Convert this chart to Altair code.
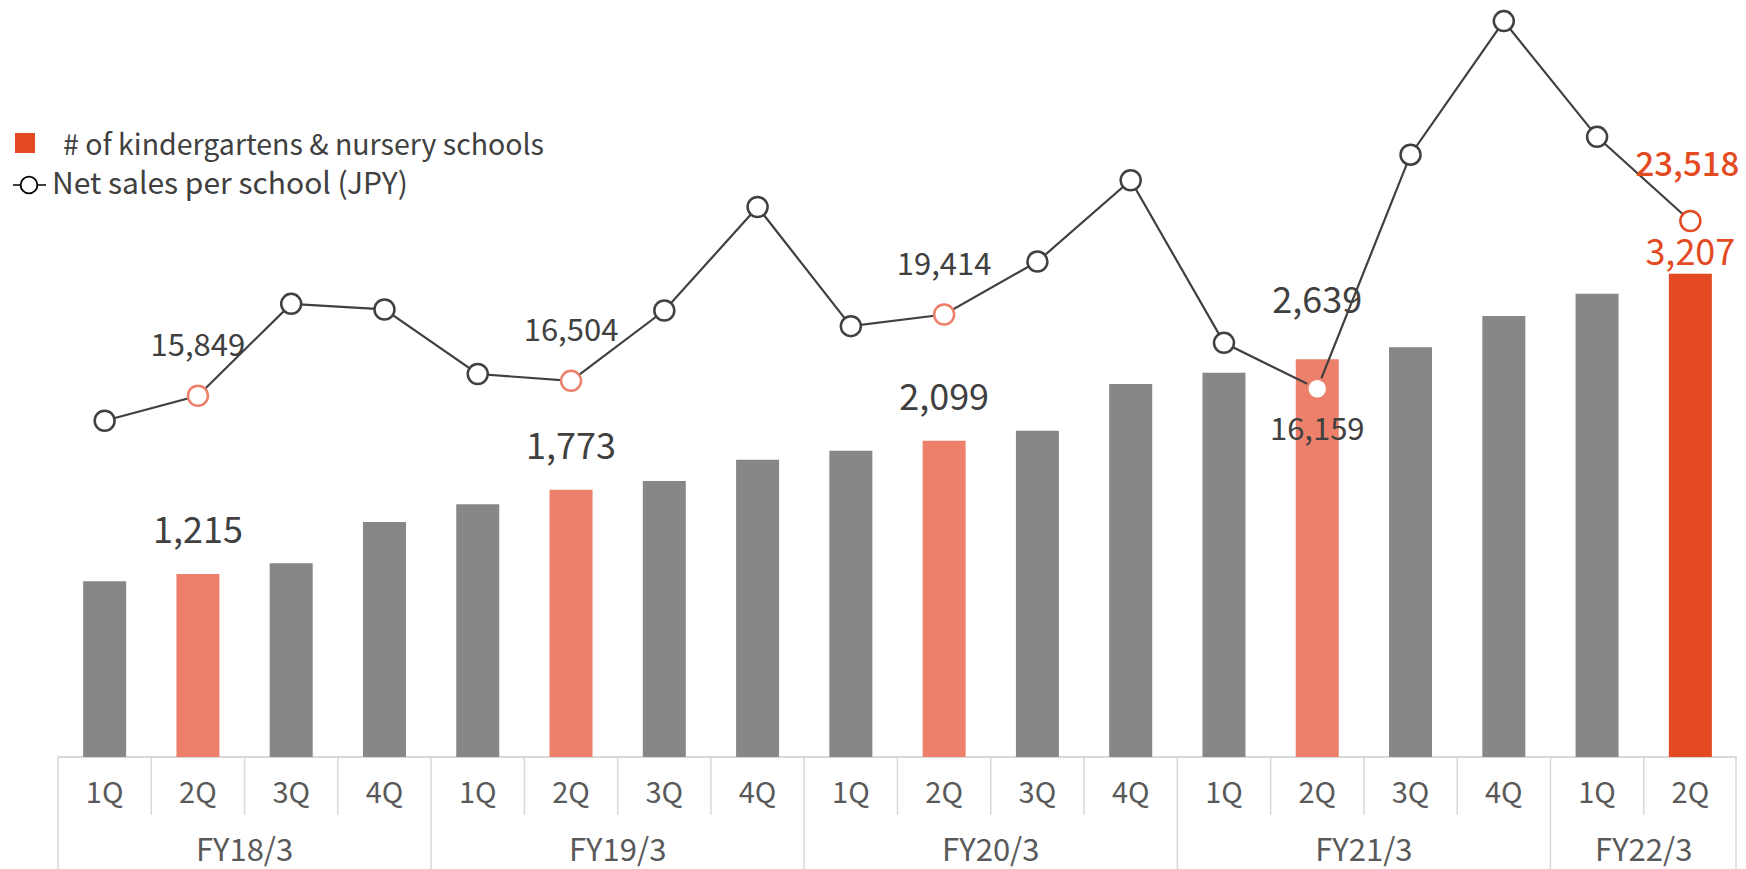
import altair as alt
import pandas as pd

# ---- data ----
fiscal_years = ["FY18/3"] * 4 + ["FY19/3"] * 4 + ["FY20/3"] * 4 + ["FY21/3"] * 4 + ["FY22/3"] * 2
quarters = ["1Q", "2Q", "3Q", "4Q"] * 4 + ["1Q", "2Q"]
schools = [1167, 1215, 1285, 1559, 1677, 1773, 1832, 1973, 2032, 2099,
           2165, 2475, 2549, 2639, 2719, 2926, 3074, 3207]
sales_per_school = [14753, 15849, 19883, 19638, 16805, 16504, 19590, 24133, 18906, 19414,
                    21739, 25305, 18173, 16159, 26429, 32291, 27211, 23518]
fy_names = ["FY18/3", "FY19/3", "FY20/3", "FY21/3", "FY22/3"]
legend_bar = "# of kindergartens & nursery schools"
legend_line = "Net sales per school (JPY)"

keys = [f"{f} {q}" for f, q in zip(fiscal_years, quarters)]
n = len(keys)
kind = []
for i, q in enumerate(quarters):
    if i == n - 1:
        kind.append("latest")
    elif q == "2Q":
        kind.append("half")
    else:
        kind.append("normal")

df = pd.DataFrame({
    "key": keys, "fy": fiscal_years, "q": quarters,
    "schools": schools, "sales": sales_per_school, "kind": kind,
})
# group label anchors: boundary in the middle of each fiscal year
anchors = []
for f in fy_names:
    idx = [i for i, v in enumerate(fiscal_years) if v == f]
    anchors.append(keys[idx[0] + len(idx) // 2])
fy_df = pd.DataFrame({"fy": fy_names, "anchor": anchors})

FONT = "Noto Sans CJK JP"
GRAY = "#878787"
SALMON = "#ED806A"
ORANGE = "#E34A22"
DARK = "#404040"
AXIS_TXT = "#595959"
GRID = "#d9d9d9"

W, H = 1679, 749
BOTTOM = 112
xscale = alt.Scale(type="band", domain=keys, paddingInner=0, paddingOuter=0)
X = alt.X("key:N", scale=xscale, axis=None)
ybar = alt.Y("schools:Q", scale=alt.Scale(domain=[0, 4970], nice=False, zero=True), axis=None)
yline = alt.Y("sales:Q", scale=alt.Scale(domain=[0, 32865], nice=False, zero=True), axis=None)
kind_color = alt.Scale(domain=["normal", "half", "latest"], range=[GRAY, SALMON, ORANGE])

base = alt.Chart(df)

bars = base.mark_bar(size=43).encode(
    x=X, y=ybar,
    color=alt.Color("kind:N", scale=kind_color, legend=None),
)

bar_lbl_common = dict(fontSize=36, font=FONT, baseline="middle", align="center")
bar_labels = base.transform_filter(
    "datum.kind == 'half' && datum.fy != 'FY21/3'"
).mark_text(dy=-42, color=DARK, **bar_lbl_common).encode(
    x=X, y=ybar, text=alt.Text("schools:Q", format=",")
)
bar_label_21 = base.transform_filter(
    "datum.kind == 'half' && datum.fy == 'FY21/3'"
).mark_text(dy=-57, color=DARK, **bar_lbl_common).encode(
    x=X, y=ybar, text=alt.Text("schools:Q", format=",")
)
bar_label_last = base.transform_filter("datum.kind == 'latest'").mark_text(
    dy=-20, color=ORANGE, **bar_lbl_common
).encode(x=X, y=ybar, text=alt.Text("schools:Q", format=","))

line = base.mark_line(color=DARK, strokeWidth=2.2).encode(x=X, y=yline)
points = base.mark_point(shape="circle", filled=False, fill="white", fillOpacity=1,
                         size=400, strokeWidth=2.5, opacity=1).encode(
    x=X, y=yline,
    stroke=alt.Stroke("kind:N", scale=alt.Scale(domain=["normal", "half", "latest"],
                                                range=[DARK, SALMON, ORANGE]), legend=None),
)

ln_common = dict(fontSize=31, font=FONT, baseline="middle", align="center")
line_labels = base.transform_filter(
    "datum.kind == 'half' && datum.fy != 'FY21/3'"
).mark_text(dy=-49, color=DARK, **ln_common).encode(
    x=X, y=yline, text=alt.Text("sales:Q", format=",")
)
line_label_21 = base.transform_filter(
    "datum.kind == 'half' && datum.fy == 'FY21/3'"
).mark_text(dy=42, color=DARK, **ln_common).encode(
    x=X, y=yline, text=alt.Text("sales:Q", format=",")
)
line_label_last = base.transform_filter("datum.kind == 'latest'").mark_text(
    dy=-55, dx=-3, color=ORANGE, fontSize=33, font=FONT, fontWeight=500,
    baseline="middle", align="center"
).encode(x=X, y=yline, text=alt.Text("sales:Q", format=","))

# ---- category axis drawn as a two-level table ----
base_rule = base.mark_rule(color=GRID, strokeWidth=1.5).encode(
    x=alt.value(0), x2=alt.value(W), y=alt.value(H)
)
q_sep = base.transform_filter("datum.q != '1Q'").mark_rule(color=GRID, strokeWidth=1.5).encode(
    x=alt.X("key:N", scale=xscale, axis=None, bandPosition=0),
    y=alt.value(H), y2=alt.value(H + 58),
)
g_sep = base.transform_filter("datum.q == '1Q'").mark_rule(color=GRID, strokeWidth=1.5).encode(
    x=alt.X("key:N", scale=xscale, axis=None, bandPosition=0),
    y=alt.value(H), y2=alt.value(H + BOTTOM),
)
one = alt.Chart(pd.DataFrame({"a": [0]}))
end_sep = one.mark_rule(color=GRID, strokeWidth=1.5).encode(
    x=alt.value(W - 1), y=alt.value(H), y2=alt.value(H + BOTTOM)
)
q_labels = base.mark_text(fontSize=29, font=FONT, color=AXIS_TXT, baseline="middle").encode(
    x=X, y=alt.value(H + 37), text="q:N"
)
fy_labels = alt.Chart(fy_df).mark_text(fontSize=31, font=FONT, color=AXIS_TXT,
                                       baseline="middle").encode(
    x=alt.X("anchor:N", scale=xscale, axis=None, bandPosition=0),
    y=alt.value(H + 95), text="fy:N",
)

# ---- legend ----
leg_sq = one.mark_point(shape="square", filled=True, color=ORANGE, size=400, opacity=1).encode(
    x=alt.value(-33), y=alt.value(135)
)
leg_t1 = one.mark_text(align="left", baseline="middle", fontSize=28.5, font=FONT, color=DARK,
                       text=legend_bar).encode(x=alt.value(5), y=alt.value(138))
leg_dash = one.mark_rule(color="black", strokeWidth=1.5).encode(
    x=alt.value(-45), x2=alt.value(-12), y=alt.value(177)
)
leg_circ = one.mark_point(shape="circle", fill="white", fillOpacity=1, stroke="black",
                          strokeWidth=1.8, size=280, opacity=1).encode(
    x=alt.value(-29), y=alt.value(177)
)
leg_t2 = one.mark_text(align="left", baseline="middle", fontSize=30, font=FONT, color=DARK,
                       text=legend_line).encode(x=alt.value(-6), y=alt.value(177))

chart = alt.layer(
    base_rule, q_sep, g_sep, end_sep, q_labels, fy_labels,
    bars, bar_labels, bar_label_21, bar_label_last,
    line, points, line_labels, line_label_21, line_label_last,
    leg_sq, leg_t1, leg_dash, leg_circ, leg_t2,
).resolve_scale(y="independent", color="independent").properties(
    width=W, height=H, background="white",
    autosize=alt.AutoSizeParams(type="none"),
    padding={"left": 50, "top": 0, "right": 1, "bottom": BOTTOM},
).configure_view(stroke=None, strokeWidth=0)

chart.save("out.html", embed_options={"renderer": "svg", "actions": False})
